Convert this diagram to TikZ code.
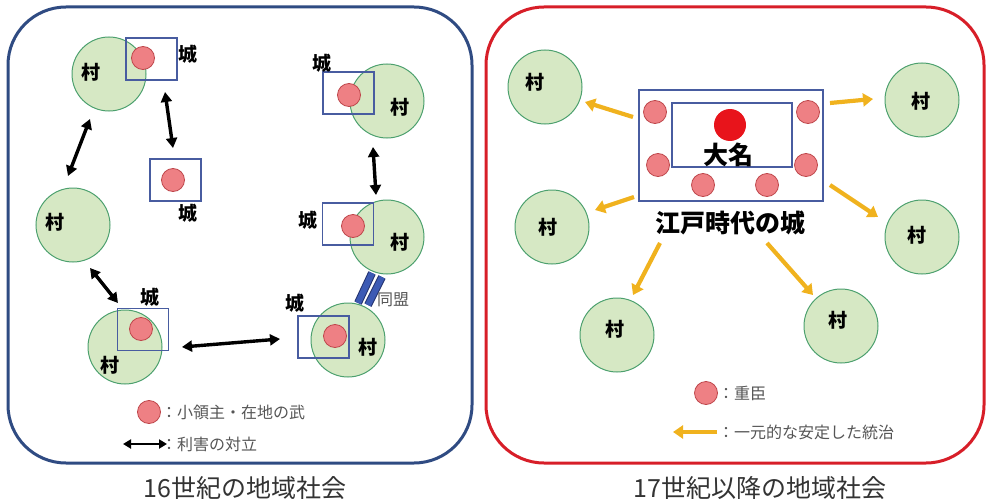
\documentclass[tikz,border=0pt]{standalone}
\usepackage{fontspec}
\newfontfamily\jp{Noto Sans CJK JP}
\usetikzlibrary{arrows.meta}
\definecolor{vgreen}{RGB}{214,232,196}
\definecolor{vline}{RGB}{76,160,110}
\definecolor{boxblue}{RGB}{72,92,160}
\definecolor{lordpink}{RGB}{238,128,132}
\definecolor{lordedge}{RGB}{190,70,75}
\definecolor{daimyored}{RGB}{232,20,27}
\definecolor{leftframe}{RGB}{47,75,130}
\definecolor{rightframe}{RGB}{215,30,40}
\definecolor{ruleorange}{RGB}{240,178,30}
\definecolor{alliance}{RGB}{60,90,180}
\definecolor{allianceedge}{RGB}{35,50,110}
\definecolor{legendgray}{RGB}{85,85,85}
\begin{document}
\begin{tikzpicture}[x=1pt,y=-1pt,
  village/.style={circle, draw=vline, fill=vgreen, line width=1pt, minimum size=74pt, inner sep=0pt},
  vlabel/.style={font=\jp\bfseries\fontsize{19}{19}\selectfont, inner sep=0pt},
  castle/.style={draw=boxblue, line width=1.8pt, minimum width=51pt, minimum height=42pt, inner sep=0pt},
  lord/.style={circle, fill=lordpink, draw=lordedge, line width=0.8pt, minimum size=23pt, inner sep=0pt},
  conflict/.style={{Triangle[length=10pt,width=11pt]}-{Triangle[length=10pt,width=11pt]}, line width=3.4pt, draw=black},
  rule/.style={-{Triangle[length=10pt,width=13pt]}, line width=4.2pt, draw=ruleorange},
  legend/.style={font=\jp\fontsize{16}{16}\selectfont, text=legendgray, anchor=west, inner sep=0pt},
  caption/.style={font=\jp\fontsize{25}{25}\selectfont, text=black!80, inner sep=0pt},
  frame/.style={line width=3pt, rounded corners=58pt}
]
\useasboundingbox (0,0) rectangle (988,503);
% frames
\draw[frame, draw=leftframe] (8,7) rectangle (472,463);
\draw[frame, draw=rightframe] (486,7) rectangle (984,463);

% ---------- left panel ----------
\node[village] (v1) at (109,74) {};
\node[village] (v2) at (73,225) {};
\node[village] (v3) at (387,101) {};
\node[village] (v4) at (387,237) {};
\node[village] (v5) at (125,347) {};
\node[village] (v6) at (348,340) {};
\node[vlabel] (v1t) at (91,72) {村};
\node[vlabel] (v2t) at (55,222) {村};
\node[vlabel] (v3t) at (400,107) {村};
\node[vlabel] (v4t) at (400,242) {村};
\node[vlabel] (v5t) at (110,365) {村};
\node[vlabel] (v6t) at (368,347) {村};

\node[castle] (c1) at (151.5,59) {};
\node[castle] (c2) at (175.5,180) {};
\node[castle] (c3) at (348.5,93) {};
\node[castle] (c4) at (348,224) {};
\node[castle] (c5) at (143,329.5) {};
\node[castle] (c6) at (323.5,337) {};
\node[lord] (l1) at (143,58) {};
\node[lord] (l2) at (173,180) {};
\node[lord] (l3) at (349,95) {};
\node[lord] (l4) at (353,226) {};
\node[lord] (l5) at (141,329) {};
\node[lord] (l6) at (335,336) {};
\node[vlabel] (c1t) at (188,54) {城};
\node[vlabel] (c2t) at (188,213) {城};
\node[vlabel] (c3t) at (322,63) {城};
\node[vlabel] (c4t) at (308,220) {城};
\node[vlabel] (c5t) at (150,297) {城};
\node[vlabel] (c6t) at (295,303) {城};

% conflict arrows
\coordinate (a1s) at (90,119);  \coordinate (a1e) at (68,176);
\coordinate (a2s) at (165,92);  \coordinate (a2e) at (173,148);
\coordinate (a3s) at (373,147); \coordinate (a3e) at (376,195);
\coordinate (a4s) at (90,268);  \coordinate (a4e) at (118,303);
\coordinate (a5s) at (182,347); \coordinate (a5e) at (280,339);
\draw[conflict] (a1s) -- (a1e);
\draw[conflict] (a2s) -- (a2e);
\draw[conflict] (a3s) -- (a3e);
\draw[conflict] (a4s) -- (a4e);
\draw[conflict] (a5s) -- (a5e);

% alliance
\coordinate (b1s) at (372,273); \coordinate (b1e) at (358,303);
\coordinate (b2s) at (382,277); \coordinate (b2e) at (368,305);
\draw[line width=8pt, draw=allianceedge] (b1s) -- (b1e);
\draw[line width=6pt, draw=alliance] (b1s) -- (b1e);
\draw[line width=8pt, draw=allianceedge] (b2s) -- (b2e);
\draw[line width=6pt, draw=alliance] (b2s) -- (b2e);
\node[legend] (allt) at (377,300) {同盟};

% legend left
\node[lord] (lg1) at (149,412) {};
\node[legend] (lg1t) at (161,412) {：小領主・在地の武};
\coordinate (lg2s) at (123,444); \coordinate (lg2e) at (167,444);
\draw[{Triangle[length=8pt,width=9pt]}-{Triangle[length=8pt,width=9pt]}, line width=2.4pt] (lg2s) -- (lg2e);
\node[legend] (lg2t) at (161,444) {：利害の対立};

% ---------- right panel ----------
\node[village] (r1) at (545,87) {};
\node[village] (r2) at (922,100) {};
\node[village] (r3) at (552,227) {};
\node[village] (r4) at (922,237) {};
\node[village] (r5) at (617,335) {};
\node[village] (r6) at (841,326) {};
\node[vlabel] (r1t) at (535,82) {村};
\node[vlabel] (r2t) at (921,101) {村};
\node[vlabel] (r3t) at (548,227) {村};
\node[vlabel] (r4t) at (917,235) {村};
\node[vlabel] (r5t) at (615,329) {村};
\node[vlabel] (r6t) at (838,320) {村};

\node[castle, minimum width=184pt, minimum height=111pt] (edo) at (731,145.5) {};
\node[castle, minimum width=120pt, minimum height=64pt] (inner) at (732,135) {};
\node[circle, fill=daimyored, minimum size=32pt, inner sep=0pt] (dm) at (730,125) {};
\node[font=\jp\bfseries\fontsize{25}{25}\selectfont, inner sep=0pt] (dmt) at (728,155) {大名};
\node[lord] (k1) at (655,112) {};
\node[lord] (k2) at (808,112) {};
\node[lord] (k3) at (658,165) {};
\node[lord] (k4) at (806,165) {};
\node[lord] (k5) at (703,185) {};
\node[lord] (k6) at (767,185) {};
\node[font=\jp\bfseries\fontsize{25}{25}\selectfont, inner sep=0pt] (edot) at (730,223) {江戸時代の城};

\coordinate (o1s) at (633,117); \coordinate (o1e) at (585,102);
\coordinate (o2s) at (830,103); \coordinate (o2e) at (873,99);
\coordinate (o3s) at (634,197); \coordinate (o3e) at (595,210);
\coordinate (o4s) at (830,185); \coordinate (o4e) at (878,217);
\coordinate (o5s) at (660,243); \coordinate (o5e) at (633,295);
\coordinate (o6s) at (767,243); \coordinate (o6e) at (813,295);
\draw[rule] (o1s) -- (o1e);
\draw[rule] (o2s) -- (o2e);
\draw[rule] (o3s) -- (o3e);
\draw[rule] (o4s) -- (o4e);
\draw[rule] (o5s) -- (o5e);
\draw[rule] (o6s) -- (o6e);

% legend right
\node[lord] (rg1) at (706,393) {};
\node[legend] (rg1t) at (718,393) {：重臣};
\coordinate (rg2s) at (717,432); \coordinate (rg2e) at (673,432);
\draw[rule] (rg2s) -- (rg2e);
\node[legend] (rg2t) at (718,432) {：一元的な安定した統治};

% captions
\node[caption] (cap1) at (245,488) {16世紀の地域社会};
\node[caption] (cap2) at (760,488) {17世紀以降の地域社会};
\end{tikzpicture}
\end{document}
